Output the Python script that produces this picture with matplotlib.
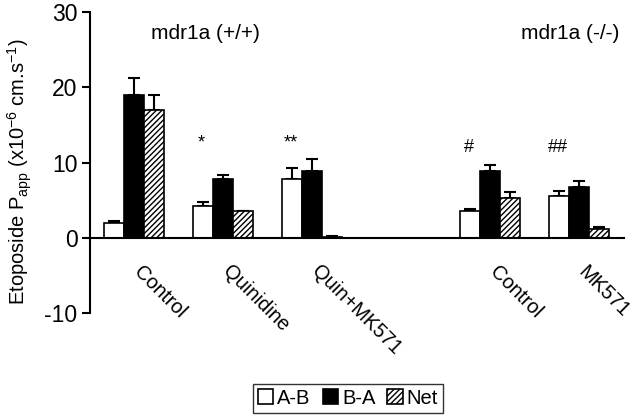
import matplotlib
matplotlib.use('Agg')
import matplotlib.pyplot as plt
import numpy as np

plt.rcParams['font.family'] = ['Liberation Sans', 'DejaVu Sans']
plt.rcParams['mathtext.fontset'] = 'custom'
plt.rcParams['mathtext.rm'] = 'Liberation Sans'
plt.rcParams['mathtext.it'] = 'Liberation Sans:italic'
plt.rcParams['axes.unicode_minus'] = False
plt.rcParams['hatch.linewidth'] = 1.0

# data
groups = ['Control', 'Quinidine', 'Quin+MK571', 'Control', 'MK571']
group_pos = [0, 1, 2, 4, 5]
ab = [2.0, 4.3, 7.8, 3.6, 5.6]
ab_err = [0.3, 0.45, 1.45, 0.25, 0.65]
ba = [19.0, 7.85, 8.95, 8.95, 6.7]
ba_err = [2.2, 0.45, 1.55, 0.8, 0.85]
net = [17.0, 3.6, 0.15, 5.35, 1.15]
net_err = [2.0, 0.0, 0.15, 0.7, 0.3]
marks = ['', '*', '**', '#', '##']
mark_y = [12.6, 12.6, 12.6, 12.0, 12.0]

fig = plt.figure(figsize=(6.4, 4.17), dpi=100)
ax = fig.add_axes([0.1406, 0.249, 0.834, 0.722])

x = np.array(group_pos, dtype=float)
w = 0.225
ekw = dict(elinewidth=1.5, capsize=4, capthick=1.5, ecolor='black')

ax.bar(x - w, ab, w, color='white', edgecolor='black', linewidth=1.2,
       label='A-B', zorder=2)
ax.errorbar(x - w, ab, yerr=[np.zeros(5), ab_err], fmt='none', zorder=1, **ekw)
ax.bar(x, ba, w, color='black', edgecolor='black', linewidth=1.2,
       label='B-A', zorder=2)
ax.errorbar(x, ba, yerr=[np.zeros(5), ba_err], fmt='none', zorder=1, **ekw)
ax.bar(x + w, net, w, color='white', edgecolor='black', linewidth=1.2,
       hatch='//////', label='Net', zorder=2)
ax.errorbar(x + w, net, yerr=[np.zeros(5), net_err], fmt='none', zorder=1, **ekw)

for xi, m, my in zip(x, marks, mark_y):
    if m:
        ax.text(xi - w - 0.02, my, m, ha='center', va='center', fontsize=13)

for xi, g in zip(x, groups):
    ax.text(xi + 0.1, -3.2, g, rotation=-45, rotation_mode='anchor',
            ha='left', va='top', fontsize=14.5)

ax.text(0.8, 27.1, 'mdr1a (+/+)', ha='center', va='center', fontsize=15)
ax.text(4.9, 27.2, 'mdr1a (-/-)', ha='center', va='center', fontsize=15)

ax.set_xlim(-0.5, 5.5)
ax.set_ylim(-10, 30)
ax.set_yticks([-10, 0, 10, 20, 30])
ax.tick_params(axis='y', labelsize=16.5, width=1.5, length=6, direction='out',
               pad=3)
ax.set_xticks([])
for s in ['top', 'right']:
    ax.spines[s].set_visible(False)
ax.spines['bottom'].set_position(('data', 0))
ax.spines['bottom'].set_linewidth(1.5)
ax.spines['left'].set_linewidth(1.5)

ax.set_ylabel('Etoposide P$_{\\mathrm{app}}$ (x10$^{-6}$ cm.s$^{-1}$)',
              fontsize=14.5)
ax.yaxis.set_label_coords(-0.105, 0.47)

leg = fig.legend(loc='center', bbox_to_anchor=(0.544, 0.045), ncol=3,
                 fontsize=14.5, frameon=True, fancybox=False, edgecolor='black',
                 handlelength=0.75, handleheight=0.75, handletextpad=0.2,
                 columnspacing=0.6, borderpad=0.25)
leg.get_frame().set_linewidth(1.0)

fig.savefig('out.png', dpi=100)
